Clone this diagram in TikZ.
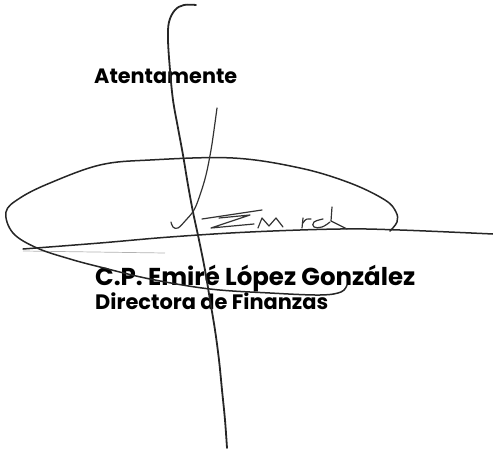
\documentclass[tikz,border=0pt]{standalone}
\usepackage{fontspec}
\newfontfamily\pop{Poppins}
\tikzset{
  sig/.style={draw=black!85, line width=1.8pt, line cap=round, line join=round},
  sigthin/.style={draw=black!80, line width=1.2pt, line cap=round, line join=round},
  faint/.style={draw=black!30, line width=0.7pt},
  txt/.style={inner sep=0pt, anchor=base west, font=\pop\bfseries}
}
\begin{document}
\begin{tikzpicture}[x=1pt,y=-1pt]
\useasboundingbox (0,0) rectangle (493,450);
% text
\node[txt] (atent) at (94,83) {\resizebox{143pt}{!}{Atentamente}};
\node[txt] (name) at (95,285) {\resizebox{320pt}{!}{C.P. Emiré López González}};
\node[txt] (dir) at (95,309) {\resizebox{233pt}{!}{Directora de Finanzas}};
% faint line
\draw[faint] (23,251) -- (165,253);
% baseline
\draw[sig, line width=1.5pt] plot[smooth, tension=0.6] coordinates {(23,249) (100,243) (170,237) (250,232) (340,229) (400,230) (493,234)};
% loop
\draw[sig, line width=1.5pt] plot[smooth, tension=0.6] coordinates {(390,231) (397,222) (396,212) (385,200) (350,183) (300,168) (233,158) (150,160) (100,165) (50,183) (20,198) (6,212) (13,233) (37,248) (70,259) (100,267) (150,279) (210,289) (270,293) (320,295) (341,292) (347,285)};
% main vertical stroke
\draw[sig] plot[smooth, tension=0.6] coordinates {(196,5) (184,5) (175,10) (169,22) (168,40) (170,70) (173,100) (178,128) (183,155) (188,185) (193,212) (199,240) (205,270) (210,300) (215,330) (219,360) (222,390) (225,420) (227,448)};
% thin stroke with hook
\draw[sigthin] plot[smooth, tension=0.6] coordinates {(217,108) (214,130) (211,150) (206,175) (200,195) (194,210) (186,220) (178,228) (173,227) (171,222)};
% Sigma-like
\draw[sigthin] (202,219) -- (262,210);
\draw[sigthin] (219,218) -- (250,215) -- (211,228) -- (254,224);
% m
\draw[sigthin] (258,228) -- (262,218) -- (269,226) -- (276,218) -- (283,227);
% r
\draw[sigthin] (302,228) -- (303,218);
\draw[sigthin] (303,223) .. controls (305,219) and (308,218) .. (311,219);
% d
\draw[sigthin] plot[smooth, tension=0.7] coordinates {(323,219) (314,222) (314,227) (322,227) (330,222)};
\draw[sigthin] (332,207) -- (331,221) -- (347,229);
\end{tikzpicture}
\end{document}
